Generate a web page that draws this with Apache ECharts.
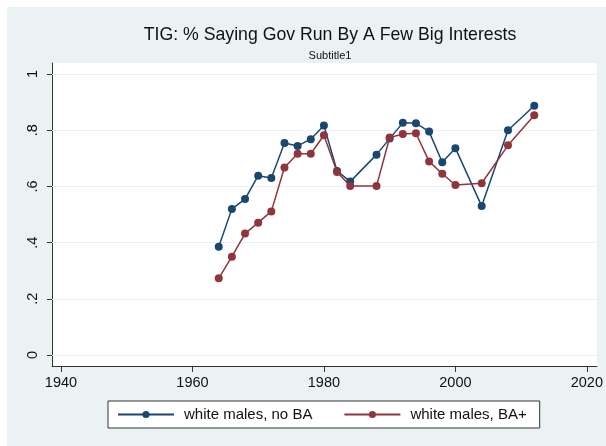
<!DOCTYPE html>
<html>
<head>
<meta charset="utf-8">
<script src="https://cdn.jsdelivr.net/npm/echarts@6/dist/echarts.min.js"></script>
<style>
html,body{margin:0;padding:0;width:606px;height:446px;background:#ffffff;overflow:hidden;}
#bg{position:absolute;left:7px;top:7px;right:0;bottom:0;background:#eaf2f3;}
#c{position:absolute;left:0;top:0;width:606px;height:446px;}
</style>
</head>
<body>
<div id="bg"></div>
<div id="c"></div>
<script>
var years = [1964,1966,1968,1970,1972,1974,1976,1978,1980,1982,1984,1988,1990,1992,1994,1996,1998,2000,2004,2008,2012];
var noBA = [0.385,0.520,0.555,0.638,0.630,0.754,0.744,0.768,0.817,0.655,0.617,0.713,0.770,0.826,0.825,0.795,0.686,0.736,0.530,0.800,0.887];
var baPlus = [0.273,0.350,0.432,0.471,0.511,0.667,0.716,0.716,0.782,0.651,0.601,0.601,0.774,0.786,0.789,0.689,0.645,0.605,0.611,0.746,0.853];
var xTicks = [1940,1960,1980,2000,2020];
var yTicks = [0,0.2,0.4,0.6,0.8,1];
var seriesNames = ['white males, no BA','white males, BA+'];
var titleText = 'TIG: % Saying Gov Run By A Few Big Interests';
var subtitleText = 'Subtitle1';

function pairs(xs, ys){ return xs.map(function(x,i){ return [x, ys[i]]; }); }
function yFmt(v){
  var r = Math.round(v*10)/10;
  if (r === 0) return '0';
  if (r === 1) return '1';
  return String(r).replace(/^0/, '');
}
function xFmt(v){ return String(Math.round(v)); }

var FONT = 'Liberation Sans, Arial, Helvetica, sans-serif';
var chart = echarts.init(document.getElementById('c'), null, {renderer:'canvas'});
chart.setOption({
  animation: false,
  backgroundColor: 'transparent',
  title: [
    {text: titleText, left: 325, top: 21, textAlign: 'center',
     textStyle:{fontFamily: FONT, fontSize: 17.7, fontWeight: 'normal', color:'#111'}},
    {text: subtitleText, left: 325, top: 45, textAlign: 'center',
     textStyle:{fontFamily: FONT, fontSize: 11, fontWeight: 'normal', color:'#111'}}
  ],
  grid: {left: 52, top: 63, right: 7, bottom: 80, show: true, backgroundColor: '#ffffff', borderWidth: 0},
  legend: {
    data: seriesNames,
    left: 108, top: 401,
    orient: 'horizontal',
    backgroundColor: '#ffffff',
    borderColor: '#333333', borderWidth: 1, borderRadius: 0,
    padding: [6, 13, 6, 9],
    itemWidth: 56, itemHeight: 9, itemGap: 31,
    textStyle: {fontFamily: FONT, fontSize: 15, color: '#111', padding: [0,0,0,5]}
  },
  xAxis: {
    type: 'value', min: 1938.636, max: 2021.52,
    axisLine: {show: true, onZero: false, lineStyle: {color: '#333', width: 1}},
    axisTick: {show: true, length: 6, customValues: xTicks, lineStyle: {color: '#333'}},
    axisLabel: {customValues: xTicks, margin: 9, fontFamily: FONT, fontSize: 14.5, color: '#111', formatter: xFmt},
    splitLine: {show: false}
  },
  yAxis: {
    type: 'value', min: -0.039, max: 1.039,
    axisLine: {show: true, onZero: false, lineStyle: {color: '#333', width: 1}},
    axisTick: {show: true, length: 5, customValues: yTicks, lineStyle: {color: '#333'}},
    axisLabel: {customValues: yTicks, rotate: 90, margin: 12, fontFamily: FONT, fontSize: 14.5, color: '#111', formatter: yFmt},
    splitLine: {show: false}
  },
  series: [
    {
      name: 'grid', type: 'line', data: [], z: 1, silent: true,
      markLine: {
        silent: true, symbol: 'none', label: {show: false}, z: 1,
        lineStyle: {color: '#eaf2f3', width: 1, type: 'solid'},
        data: yTicks.map(function(v){ return {yAxis: v}; })
      }
    },
    {
      name: seriesNames[0], type: 'line', z: 3,
      data: pairs(years, noBA),
      symbol: 'circle', symbolSize: 8,
      itemStyle: {color: '#1a476f'},
      lineStyle: {color: '#1a476f', width: 1.5}
    },
    {
      name: seriesNames[1], type: 'line', z: 4,
      data: pairs(years, baPlus),
      symbol: 'circle', symbolSize: 8,
      itemStyle: {color: '#90353b'},
      lineStyle: {color: '#90353b', width: 1.5}
    }
  ]
});
</script>
</body>
</html>
